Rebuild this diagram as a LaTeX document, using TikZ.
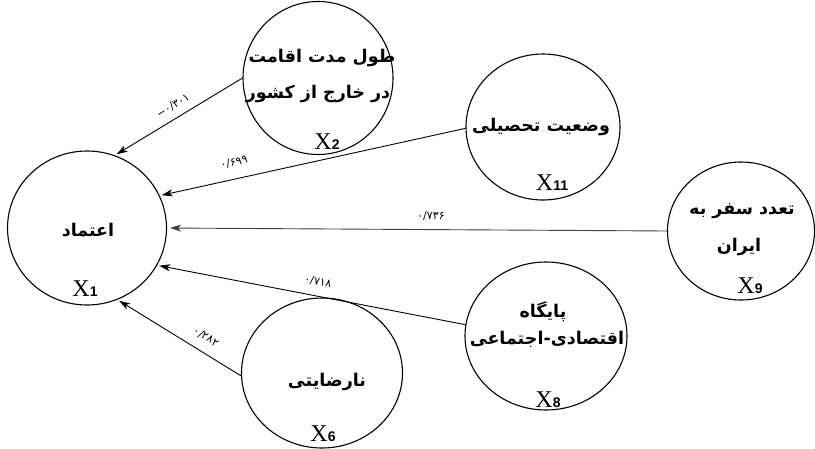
\documentclass[tikz,border=0pt]{standalone}
\usepackage{fontspec}
\setmainfont{Liberation Serif}
\newfontfamily\arabicfont[Script=Arabic]{DejaVu Sans}
\newfontfamily\coeffont{DejaVu Sans}
\newfontfamily\digfont{Liberation Sans}
\TeXXeTstate=1
\usetikzlibrary{arrows.meta,shapes.geometric}
\tikzset{
  var/.style={ellipse, draw, line width=1.1pt, inner sep=0pt},
  fa/.style={font=\arabicfont\bfseries\fontsize{17.5}{20}\selectfont, inner sep=0pt},
  xl/.style={inner sep=0pt},
  coef/.style={font=\coeffont\fontsize{11}{12}\selectfont, inner sep=0pt},
  arr/.style={-{Stealth[length=11pt,width=7pt,inset=3pt]}, line width=0.9pt, shorten >=2pt},
}
\newcommand{\xlab}[1]{{\fontsize{24}{24}\selectfont X}{\digfont\bfseries\fontsize{14}{14}\selectfont #1}}
\begin{document}
\begin{tikzpicture}[x=1pt,y=-1pt]
\useasboundingbox (0,0) rectangle (815,448);
% circles
\node[var, minimum width=159pt, minimum height=154pt] (x1) at (87,228) {};
\node[var, minimum width=150pt, minimum height=153pt] (x2) at (318,78) {};
\node[var, minimum width=154pt, minimum height=146pt] (x11) at (543,127) {};
\node[var, minimum width=147pt, minimum height=138pt] (x9) at (741,231) {};
\node[var, minimum width=162pt, minimum height=148pt] (x8) at (546,336) {};
\node[var, minimum width=161pt, minimum height=150pt] (x6) at (322,373) {};
% texts
\node[fa] (t1) at (88,230) {\beginR اعتماد\endR};
\node[xl] (l1) at (85,289) {\xlab{1}};
\node[fa] (t2a) at (322,58) {\beginR طول مدت اقامت\endR};
\node[fa] (t2b) at (318,94) {\beginR در خارج از کشور\endR};
\node[xl] (l2) at (327,142) {\xlab{2}};
\node[fa] (t11) at (541,127) {\beginR وضعیت تحصیلی\endR};
\node[xl] (l11) at (552,183) {\xlab{11}};
\node[fa] (t9a) at (742,211) {\beginR تعدد سفر به\endR};
\node[fa] (t9b) at (739,247) {\beginR ایران\endR};
\node[xl] (l9) at (750,286) {\xlab{9}};
\node[fa] (t8a) at (543,312) {\beginR پایگاه\endR};
\node[fa] (t8b) at (547,339) {\beginR اقتصادی-اجتماعی\endR};
\node[xl] (l8) at (548,400) {\xlab{8}};
\node[fa] (t6) at (327,382) {\beginR نارضایتی\endR};
\node[xl] (l6) at (323,434) {\xlab{6}};
% arrows
\draw[arr] (x2.180) -- (x1.69);
\draw[arr] (x11.181) -- (x1.24);
\draw[arr, draw=black!75, shorten >=3pt] (x9.west) -- (x1.east);
\draw[arr] (x8.172) -- (x1.-28);
\draw[arr] (x6.182) -- (x1.-67);
% coefficients
\node[coef, rotate=32] (c2) at (173,106) {−۰/۳۰۱};
\node[coef, rotate=12] (c11) at (234,162) {۰/۶۹۹};
\node[coef] (c9) at (431,216) {۰/۷۳۶};
\node[coef, rotate=-11] (c8) at (318,282) {۰/۷۱۸};
\node[coef, rotate=-31] (c6) at (206,337) {۰/۲۸۲};
\end{tikzpicture}
\end{document}
